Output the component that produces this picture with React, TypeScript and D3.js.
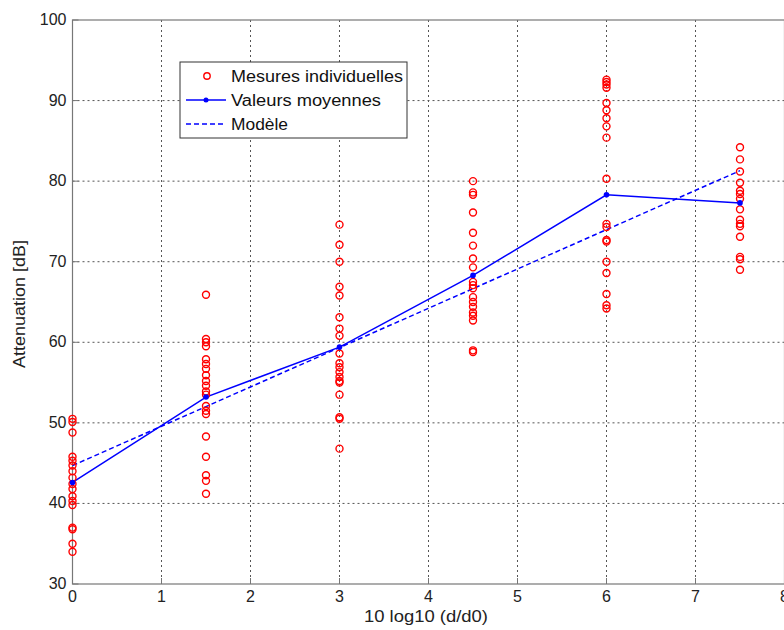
import React from "react";
import * as d3 from "d3";

const xPositions = [0, 1.5, 3, 4.5, 6, 7.5];
const measures: number[][] = [
  [50.5, 50.1, 48.8, 45.8, 45.3, 44.7, 44.0, 43.2, 42.4, 41.8, 40.9, 40.3, 39.8, 37.0, 36.8, 35.0, 34.0],
  [65.9, 60.4, 60.0, 59.5, 57.9, 57.3, 56.7, 55.9, 55.2, 54.6, 53.9, 53.5, 52.1, 51.5, 51.1, 48.3, 45.8, 43.5, 42.8, 41.2],
  [74.6, 72.1, 70.0, 66.9, 65.8, 63.1, 61.7, 60.8, 58.6, 57.4, 56.9, 56.3, 55.7, 55.2, 55.0, 53.5, 50.7, 50.5, 46.8],
  [80.0, 78.6, 78.3, 76.1, 73.6, 72.0, 70.4, 69.3, 67.5, 67.1, 66.7, 65.6, 65.0, 64.4, 63.7, 63.3, 62.7, 59.0, 58.8],
  [92.6, 92.3, 92.0, 91.6, 89.7, 88.8, 87.8, 86.8, 85.4, 80.3, 74.7, 74.3, 72.7, 72.5, 70.0, 68.6, 66.0, 64.6, 64.2],
  [84.2, 82.7, 81.2, 79.8, 78.8, 78.4, 77.8, 76.5, 75.2, 74.7, 74.4, 73.1, 70.6, 70.3, 69.0],
];
const meanValues = [42.6, 53.2, 59.4, 68.3, 78.3, 77.3];
const modelX = [0, 7.5];
const modelY = [44.7, 81.3];
const xTicks = [0, 1, 2, 3, 4, 5, 6, 7, 8];
const yTicks = [30, 40, 50, 60, 70, 80, 90, 100];
const legendLabels = ["Mesures individuelles", "Valeurs moyennes", "Modèle"];

const W = 784;
const H = 630;
const L = 72.5, R = 784.5, T = 20, B = 584;

export default function App() {
  const x = d3.scaleLinear().domain([0, 8]).range([L, R]);
  const y = d3.scaleLinear().domain([30, 100]).range([B, T]);
  const meanLine = d3.line<number>().x((_, i) => x(xPositions[i])).y((d) => y(d))(meanValues) || "";
  const modelLine = d3.line<number>().x((_, i) => x(modelX[i])).y((d) => y(d))(modelY) || "";
  const font = "Liberation Sans, Arial, Helvetica, sans-serif";
  const red = "#ff0000";
  const blue = "#0000ff";
  const lx = 180, ly = 62, lw = 227, lh = 76;
  const legendWidths = [172, 150, 57];
  return (
    <svg width={W} height={H} style={{ position: "absolute", left: 0, top: 0, background: "#fff" }} fontFamily={font}>
      <rect x={0} y={0} width={W} height={H} fill="#fff" />
      {/* grid */}
      {xTicks.slice(1, -1).map((t) => (
        <line key={"gx" + t} x1={x(t)} x2={x(t)} y1={T} y2={B} stroke="#555" strokeWidth={1} strokeDasharray="2,3" />
      ))}
      {yTicks.slice(1, -1).map((t) => (
        <line key={"gy" + t} x1={L} x2={R} y1={y(t)} y2={y(t)} stroke="#555" strokeWidth={1} strokeDasharray="2,3" />
      ))}
      {/* axes box */}
      <rect x={L} y={T} width={R - L} height={B - T} fill="none" stroke="#777" strokeWidth={1.2} />
      {/* ticks */}
      {xTicks.map((t) => (
        <g key={"tx" + t}>
          <line x1={x(t)} x2={x(t)} y1={B} y2={B - 6} stroke="#777" />
          <text x={x(t)} y={B + 18} fontSize={16} textAnchor="middle" fill="#222">{t}</text>
        </g>
      ))}
      {yTicks.map((t) => (
        <g key={"ty" + t}>
          <line x1={L} x2={L + 6} y1={y(t)} y2={y(t)} stroke="#777" />
          <text x={L - 6} y={y(t) + 5} fontSize={16} textAnchor="end" fill="#222">{t}</text>
        </g>
      ))}
      <text x={426} y={622} fontSize={16} textAnchor="middle" fill="#222" textLength={124} lengthAdjust="spacingAndGlyphs">10 log10 (d/d0)</text>
      <text transform={`translate(25, 304) rotate(-90)`} fontSize={16} textAnchor="middle" fill="#222" textLength={128} lengthAdjust="spacingAndGlyphs">Attenuation [dB]</text>
      {/* model */}
      <path d={modelLine} fill="none" stroke={blue} strokeWidth={1.5} strokeDasharray="5,3" />
      {/* mean */}
      <path d={meanLine} fill="none" stroke={blue} strokeWidth={1.5} />
      {/* measures */}
      {measures.map((col, i) =>
        col.map((v, j) => (
          <circle key={`m${i}-${j}`} cx={x(xPositions[i])} cy={y(v)} r={3.5} fill="none" stroke={red} strokeWidth={1.4} />
        ))
      )}
      {meanValues.map((v, i) => (
        <circle key={"mv" + i} cx={x(xPositions[i])} cy={y(v)} r={2.8} fill={blue} />
      ))}
      {/* legend */}
      <rect x={lx} y={ly} width={lw} height={lh} fill="#fff" stroke="#333" strokeWidth={1} />
      <circle cx={207} cy={76} r={3.2} fill="none" stroke={red} strokeWidth={1.4} />
      <line x1={186} x2={226} y1={100} y2={100} stroke={blue} strokeWidth={1.5} />
      <circle cx={206} cy={100} r={2.5} fill={blue} />
      <line x1={186} x2={226} y1={124} y2={124} stroke={blue} strokeWidth={1.5} strokeDasharray="5,3" />
      {legendLabels.map((s, i) => (
        <text key={s} x={231} y={82 + i * 24} fontSize={16} fill="#111" textLength={legendWidths[i]} lengthAdjust="spacingAndGlyphs">{s}</text>
      ))}
    </svg>
  );
}
